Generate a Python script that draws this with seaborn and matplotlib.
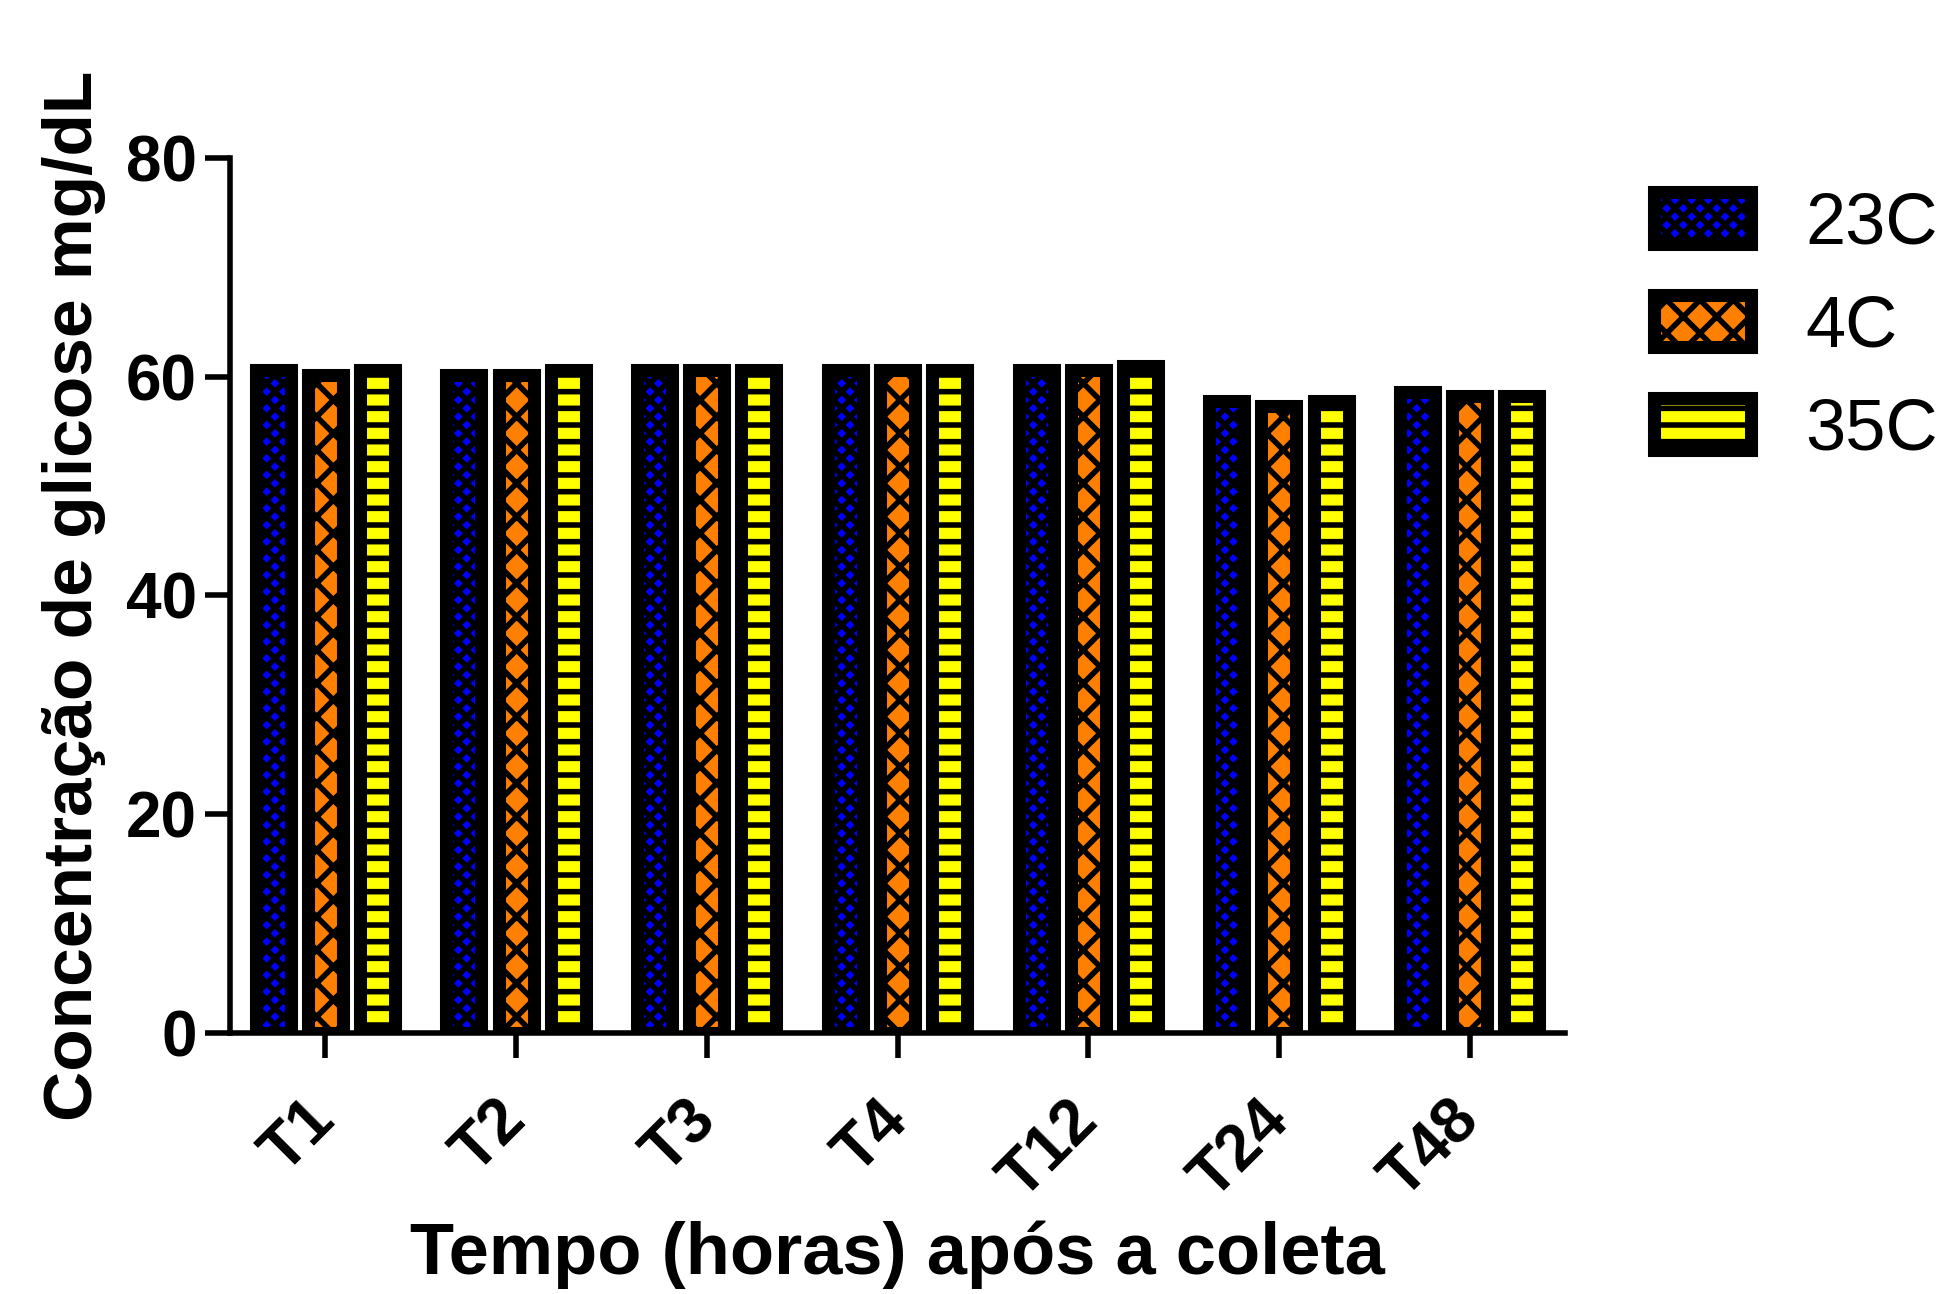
import numpy as np
import pandas as pd
import matplotlib
matplotlib.use("Agg")
import matplotlib.pyplot as plt
import seaborn as sns

# =====================================================
# DATA
# =====================================================

tempos = ["T1", "T2", "T3", "T4", "T12", "T24", "T48"]
grupos = ["23C", "4C", "35C"]

glicose_23C = [60.6, 60.2, 60.6, 60.6, 60.6, 57.8, 58.6]
glicose_4C = [60.2, 60.2, 60.6, 60.6, 60.6, 57.3, 58.2]
glicose_35C = [60.6, 60.6, 60.6, 60.6, 61.0, 57.8, 58.2]

cores = ["#0000ff", "#ff8000", "#ffff00"]
hachuras = ["xx", "x", "-"]

df = pd.DataFrame({
    "tempo": tempos * 3,
    "grupo": [g for g in grupos for _ in tempos],
    "glicose": glicose_23C + glicose_4C + glicose_35C,
})

# =====================================================
# STYLE
# =====================================================

sns.set_style("white")
plt.rcParams["font.family"] = ["Liberation Sans", "DejaVu Sans"]
plt.rcParams["text.color"] = "black"
plt.rcParams["axes.labelcolor"] = "black"
plt.rcParams["xtick.color"] = "black"
plt.rcParams["ytick.color"] = "black"
plt.rcParams["hatch.color"] = "black"
plt.rcParams["hatch.linewidth"] = 4

fig = plt.figure(figsize=(19.41, 12.94), dpi=100)
ax = fig.add_axes([0.1185, 0.2017, 0.6878, 0.6762])

sns.barplot(
    data=df, x="tempo", y="glicose", hue="grupo",
    order=tempos, hue_order=grupos, palette=cores, saturation=1,
    width=0.82, gap=0.33, edgecolor="black", linewidth=9.4,
    legend=False, ax=ax,
)

for cont, h in zip(ax.containers, hachuras):
    for p in cont.patches:
        p.set_hatch(h)

# =====================================================
# AXES
# =====================================================

ax.set_xlim(-0.5, 6.5)
ax.set_ylim(0, 80)
ax.set_yticks([0, 20, 40, 60, 80])
sns.despine(ax=ax)
for s in ["left", "bottom"]:
    ax.spines[s].set_linewidth(4)
    ax.spines[s].set_color("black")

ax.tick_params(axis="both", length=18, width=4, color="black",
               labelsize=46, left=True, bottom=True)
ax.tick_params(axis="y", pad=6)
ax.tick_params(axis="x", pad=38)
for lab in ax.get_yticklabels():
    lab.set_fontweight("bold")
for lab in ax.get_xticklabels():
    lab.set_fontweight("bold")
    lab.set_rotation(45)
    lab.set_ha("right")
    lab.set_va("center")
    lab.set_rotation_mode("anchor")

ax.set_xlabel("Tempo (horas) após a coleta", fontsize=52, fontweight="bold", labelpad=8)
ax.set_ylabel("Concentração de glicose mg/dL", fontsize=50, fontweight="bold", labelpad=14)

ax.legend(
    handles=list(ax.containers), labels=grupos,
    loc="upper left", bbox_to_anchor=(1.045, 0.995), frameon=False,
    fontsize=52, handlelength=1.34, handleheight=0.72,
    labelspacing=0.5, handletextpad=0.75, borderaxespad=0,
)

fig.savefig("out.png", dpi=100)
